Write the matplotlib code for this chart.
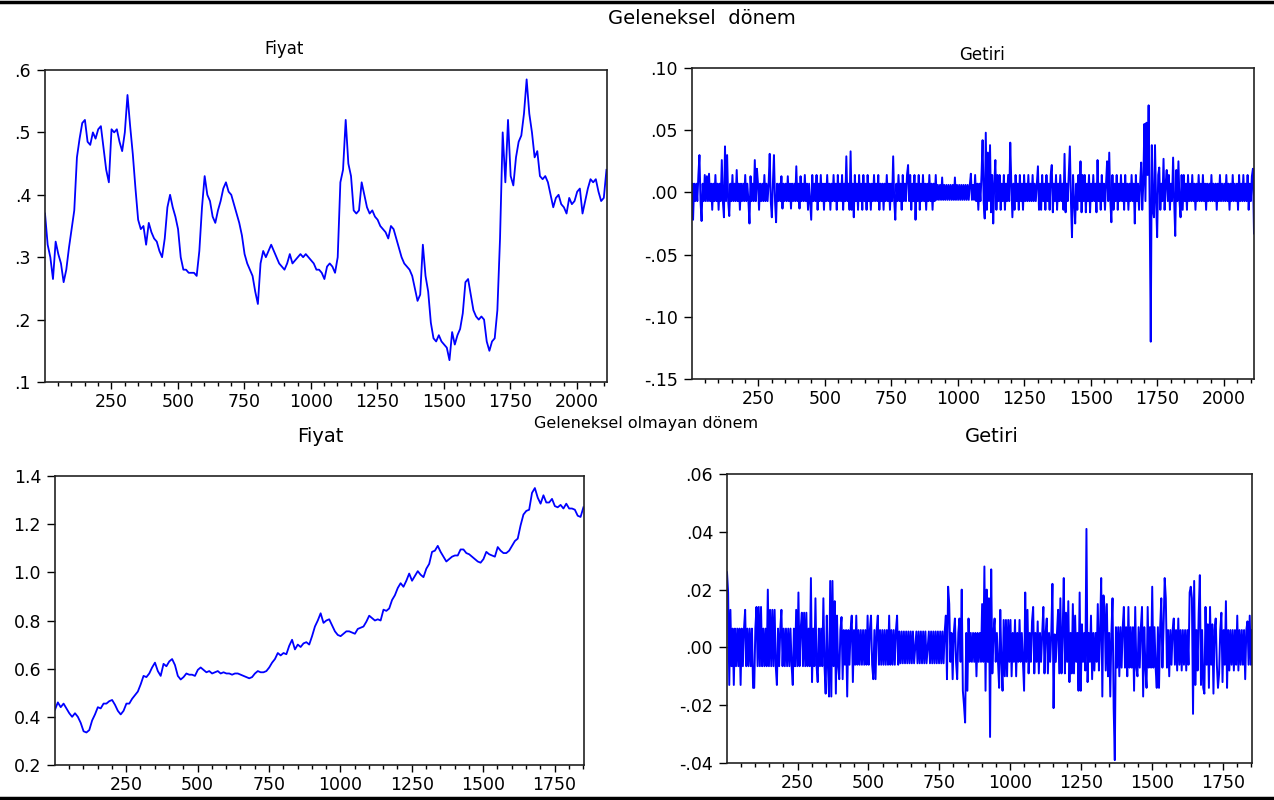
import numpy as np
import matplotlib
matplotlib.use("Agg")
import matplotlib.pyplot as plt
from matplotlib.lines import Line2D
from matplotlib.ticker import FixedLocator

plt.rcParams['font.family'] = ['DejaVu Sans']

# gözlem sayıları
n_geleneksel = 2113
n_olmayan = 1853

# Geleneksel dönem - fiyat (her 10 gözlemde bir okunan değerler)
fiyat_geleneksel = [
    0.37, 0.32, 0.30, 0.265, 0.325, 0.305, 0.29, 0.26, 0.28, 0.315,
    0.345, 0.375, 0.46, 0.49, 0.515, 0.52, 0.485, 0.48, 0.50, 0.49,
    0.505, 0.51, 0.475, 0.44, 0.42, 0.505, 0.50, 0.505, 0.485, 0.47,
    0.50, 0.56, 0.51, 0.465, 0.41, 0.36, 0.345, 0.35, 0.32, 0.355,
    0.34, 0.33, 0.325, 0.31, 0.30, 0.33, 0.38, 0.40, 0.38, 0.365,
    0.345, 0.30, 0.28, 0.28, 0.275, 0.275, 0.275, 0.27, 0.31, 0.38,
    0.43, 0.40, 0.39, 0.365, 0.355, 0.375, 0.39, 0.41, 0.42, 0.405,
    0.40, 0.385, 0.37, 0.355, 0.335, 0.305, 0.29, 0.28, 0.27, 0.245,
    0.225, 0.29, 0.31, 0.30, 0.31, 0.32, 0.31, 0.30, 0.29, 0.285,
    0.28, 0.29, 0.305, 0.29, 0.295, 0.30, 0.305, 0.30, 0.305, 0.30,
    0.295, 0.29, 0.28, 0.28, 0.275, 0.265, 0.285, 0.29, 0.285, 0.275,
    0.30, 0.42, 0.44, 0.52, 0.45, 0.43, 0.375, 0.37, 0.375, 0.42,
    0.40, 0.38, 0.37, 0.375, 0.365, 0.36, 0.35, 0.345, 0.34, 0.33,
    0.35, 0.345, 0.33, 0.315, 0.30, 0.29, 0.285, 0.28, 0.27, 0.25,
    0.23, 0.24, 0.32, 0.27, 0.245, 0.195, 0.17, 0.165, 0.175, 0.165,
    0.16, 0.155, 0.135, 0.18, 0.16, 0.175, 0.185, 0.21, 0.26, 0.265,
    0.24, 0.215, 0.205, 0.20, 0.205, 0.20, 0.165, 0.15, 0.165, 0.17,
    0.215, 0.33, 0.50, 0.42, 0.52, 0.43, 0.415, 0.46, 0.485, 0.495,
    0.53, 0.585, 0.53, 0.50, 0.46, 0.47, 0.43, 0.425, 0.43, 0.42,
    0.40, 0.38, 0.395, 0.40, 0.385, 0.38, 0.37, 0.395, 0.385, 0.39,
    0.405, 0.41, 0.37, 0.39, 0.41, 0.425, 0.42, 0.425, 0.405, 0.39,
    0.395, 0.44,
]

# Geleneksel dönem - getiri, yüzde olarak (her 4 gözlemde bir)
getiri_geleneksel_yuzde = [
    0.7, -2.2, 0.7, -0.7, 0.7, -0.7, 1.4, 3.0, -0.7, -2.3,
    0.7, -0.7, 1.4, -0.7, 1.3, -0.7, 1.5, -0.7, 0.7, -1.4,
    0.7, -0.7, 1.4, -0.7, 0.7, -1.4, 0.7, -0.7, 2.6, -0.7,
    -2.0, 3.7, -0.7, 3.0, -0.7, -1.9, 0.7, -0.7, 1.4, -0.7,
    0.7, -0.7, 1.8, -0.7, 0.7, -1.4, 0.7, -0.7, 0.7, -0.7,
    1.4, -0.7, 0.7, -0.7, -2.5, 1.3, -0.7, 0.7, -0.7, 2.6,
    -0.7, 1.9, 0.7, -1.4, 0.7, -0.7, 0.7, -0.7, 1.4, -0.7,
    0.7, -0.7, 0.7, 3.1, -0.7, -2.0, 0.7, 3.0, -0.7, -2.4,
    0.7, -0.7, 0.7, -0.7, 1.3, -1.3, 0.7, -0.7, 0.7, -0.7,
    1.3, -0.7, 0.7, -1.3, 0.7, -0.7, 0.7, -0.7, 2.1, -0.7,
    0.7, -1.3, 1.3, -0.7, 0.7, -0.7, 1.4, -0.7, 0.7, -1.4,
    0.7, -0.7, -2.2, 1.4, -0.7, 0.7, -0.7, 1.4, -1.4, 0.7,
    -0.7, 1.4, -0.7, 0.7, -1.4, 0.7, -0.7, 1.4, -0.7, 0.7,
    -1.4, 0.7, -0.7, 1.4, -0.7, 0.7, -1.4, 1.4, -0.7, 0.7,
    -0.7, 1.4, -1.4, 0.7, -0.7, 2.9, -0.7, 0.7, -1.4, 3.3,
    -1.4, 0.7, -2.0, 1.4, -0.7, 0.7, -1.4, 1.4, -0.7, 0.7,
    -1.4, 1.4, -0.7, 0.7, -1.4, 1.4, -0.7, 0.7, -1.4, 0.7,
    -0.7, 1.4, -0.7, 0.7, -0.7, 1.4, -1.4, 0.7, -0.7, 0.7,
    -1.4, 0.7, -0.7, 1.4, -0.7, 0.7, -1.4, 0.7, -0.7, 2.9,
    -0.7, -2.2, 0.7, -0.7, 1.4, -0.7, 0.7, -1.4, 1.4, -0.7,
    0.7, -0.7, 1.4, 2.2, -0.7, 1.4, -1.4, 0.7, -0.7, 1.4,
    -2.2, 0.7, -0.7, 1.4, -1.4, 0.7, -0.7, 1.4, -0.7, 0.7,
    -1.4, 0.7, -0.7, 1.4, -0.7, 0.7, -1.4, 0.7, -0.7, 1.4,
    -0.6, 0.6, -0.6, 0.6, -0.6, 1.2, -0.6, 0.6, -0.6, 0.6,
    -0.6, 0.6, -0.6, 0.6, -0.6, 0.6, -0.6, 1.2, -0.6, 0.6,
    -0.6, 0.6, -0.6, 0.6, -0.6, 0.6, -0.6, 0.6, -0.6, 0.6,
    -0.6, 0.6, 1.5, -0.6, 0.6, -0.6, 1.4, -0.7, 0.7, -1.4,
    0.7, -0.7, 1.4, 4.2, -0.7, -2.1, 4.8, -1.4, 3.2, -0.7,
    3.8, -1.6, 1.4, -2.5, 0.7, 2.6, -1.4, 1.4, -0.7, 1.4,
    -1.4, 0.7, -0.7, 1.4, -1.4, 0.7, -0.7, 1.4, -0.7, 4.0,
    0.7, -2.0, 0.7, -1.4, 1.4, -0.7, 0.7, -1.4, 1.4, -0.7,
    0.7, -1.4, 1.4, -0.7, 0.7, -0.7, 1.4, -0.7, 0.7, -0.7,
    1.4, -0.7, 0.7, -0.7, 0.7, 2.1, -1.4, 0.7, -1.4, 1.4,
    -0.7, 0.7, -1.4, 1.4, -0.7, 0.7, -1.4, 1.4, 2.2, -1.6,
    0.7, -0.7, 1.4, -1.4, 0.7, -0.7, 1.4, -0.7, 0.7, -1.4,
    3.1, -1.6, 0.7, -0.7, 1.4, 3.7, -0.7, -3.6, 1.4, -0.7,
    -2.5, 0.7, -1.4, 1.4, -0.7, 2.5, -1.6, 1.4, -0.7, 1.4,
    -1.6, 0.7, -0.7, 1.4, -1.6, 0.7, -0.7, 1.4, -0.7, 0.7,
    -1.6, 2.6, -0.7, 0.7, -1.4, 1.4, -0.7, 0.7, -1.4, 0.7,
    2.5, -0.7, 3.2, -0.7, -2.4, 1.4, -1.4, 0.7, -0.7, 1.4,
    -1.4, 0.7, -0.7, 1.4, -0.7, 0.7, -1.4, 1.4, -0.7, 0.7,
    -1.4, 0.7, -0.7, 1.4, -0.7, 0.7, -2.5, 1.4, -0.7, 0.7,
    -1.4, 0.7, 2.4, -1.4, 0.7, 5.5, -0.7, 5.6, 1.4, 7.0,
    -1.4, -12.0, 3.8, -1.4, -2.0, 3.8, -0.7, -3.6, 1.4, 2.0,
    -1.4, 0.7, -0.7, 2.7, -1.4, 0.7, 1.8, -0.7, 1.4, -1.4,
    0.7, -0.7, 2.8, -0.7, -3.5, 1.8, -0.7, 2.5, -0.7, -2.0,
    1.4, -1.4, 1.4, -0.7, 0.7, -1.4, 1.4, -0.7, 0.7, -0.7,
    1.4, -0.7, 0.7, -1.4, 0.7, -0.7, 1.4, -0.7, 0.7, -0.7,
    1.4, -0.7, 0.7, -1.4, 0.7, -0.7, 0.7, -0.7, 1.4, -0.7,
    0.7, -0.7, 0.7, -1.4, 0.7, -0.7, 1.4, -0.7, 0.7, -0.7,
    0.7, -0.7, 1.4, -0.7, 0.7, -1.4, 0.7, -0.7, 1.4, -0.7,
    0.7, -0.7, 0.7, -1.4, 1.4, -0.7, 0.7, -0.7, 1.4, -0.7,
    0.7, -0.7, 1.4, -1.4, 0.7, -0.7, 1.3, 1.9, -3.3,
]

# Geleneksel olmayan dönem - fiyat (her 10 gözlemde bir)
fiyat_olmayan = [
    0.43, 0.46, 0.44, 0.455, 0.435, 0.415, 0.40, 0.415, 0.40, 0.375,
    0.34, 0.335, 0.345, 0.385, 0.41, 0.44, 0.435, 0.455, 0.455, 0.465,
    0.47, 0.45, 0.425, 0.41, 0.425, 0.455, 0.455, 0.475, 0.49, 0.505,
    0.535, 0.57, 0.565, 0.58, 0.605, 0.625, 0.59, 0.57, 0.62, 0.61,
    0.63, 0.64, 0.615, 0.57, 0.555, 0.565, 0.58, 0.575, 0.575, 0.57,
    0.595, 0.605, 0.595, 0.585, 0.59, 0.58, 0.585, 0.59, 0.58, 0.585,
    0.58, 0.58, 0.575, 0.58, 0.58, 0.575, 0.57, 0.565, 0.56, 0.565,
    0.58, 0.59, 0.585, 0.585, 0.59, 0.605, 0.625, 0.64, 0.665, 0.655,
    0.665, 0.66, 0.695, 0.72, 0.68, 0.70, 0.69, 0.705, 0.71, 0.70,
    0.735, 0.775, 0.80, 0.83, 0.79, 0.80, 0.805, 0.78, 0.755, 0.74,
    0.735, 0.745, 0.755, 0.755, 0.75, 0.745, 0.765, 0.77, 0.775, 0.795,
    0.82, 0.81, 0.80, 0.805, 0.80, 0.845, 0.84, 0.85, 0.885, 0.905,
    0.935, 0.955, 0.94, 0.965, 0.995, 0.965, 0.985, 1.005, 0.99, 0.98,
    1.015, 1.035, 1.085, 1.09, 1.11, 1.085, 1.065, 1.045, 1.055, 1.065,
    1.07, 1.07, 1.095, 1.095, 1.08, 1.075, 1.065, 1.055, 1.045, 1.04,
    1.055, 1.085, 1.075, 1.07, 1.065, 1.105, 1.09, 1.08, 1.08, 1.09,
    1.11, 1.13, 1.14, 1.195, 1.24, 1.255, 1.26, 1.33, 1.35, 1.31,
    1.285, 1.32, 1.29, 1.29, 1.305, 1.275, 1.27, 1.28, 1.265, 1.285,
    1.265, 1.265, 1.26, 1.235, 1.23, 1.27,
]

# Geleneksel olmayan dönem - getiri, yüzde olarak (her 4 gözlemde bir)
getiri_olmayan_yuzde = [
    2.6, 1.9, -1.3, 1.3, -0.65, 0.65, -1.3, 0.65, -0.65, 0.65,
    -0.65, 0.65, -1.3, 0.65, -0.65, 0.65, 1.3, -0.65, 0.65, -0.65,
    0.65, -0.65, 0.65, -1.4, -1.4, 0.65, 1.4, -0.65, 1.4, -0.65,
    1.4, -0.65, 0.65, -0.65, 0.65, -0.65, 2.0, -0.65, 1.3, -0.65,
    1.3, -0.65, 1.3, -0.65, -1.3, 0.65, -0.65, 0.65, 1.3, -0.65,
    0.65, -0.65, 0.65, -0.65, 0.65, -0.65, 0.65, -0.65, -1.3, 0.65,
    -0.65, 1.3, -0.65, 1.9, -0.65, 0.65, 1.2, -0.65, 1.2, -0.65,
    1.2, -0.65, 0.65, -0.65, 2.4, -1.2, 0.65, -0.65, 1.7, -0.65,
    -1.2, 0.65, -0.65, 0.65, -0.65, 1.7, -0.65, -1.6, 1.1, -0.65,
    -1.7, 2.3, -1.7, 2.3, -0.65, 1.6, -1.6, 1.1, -0.65, -1.1,
    0.6, 1.05, -1.1, 0.6, -0.6, 0.6, -1.7, 0.6, -0.6, 0.6,
    1.1, -1.2, 0.6, -0.6, 1.1, -0.6, 0.6, -0.6, 0.6, -0.6,
    0.6, -0.6, 0.6, -0.6, 1.1, -0.6, 0.6, 1.1, -0.6, -1.1,
    0.6, -1.1, 0.6, 1.1, -0.6, 0.6, -0.6, 0.6, -0.6, 0.6,
    -0.6, 0.6, -0.6, 1.1, -0.6, 0.6, -0.6, 0.6, -0.6, 0.6,
    1.1, -0.6, 0.55, -0.55, 0.55, -0.55, 0.55, -0.55, 0.55, -0.55,
    0.55, -0.55, 0.55, -0.55, 0.55, -0.55, 0.0, 0.55, -0.55, 0.55,
    -0.55, 0.55, -0.55, 0.55, -0.55, 0.55, -0.55, 0.0, 0.55, -0.55,
    0.55, -0.55, 0.55, -0.55, 0.55, -0.55, 0.55, -0.55, 0.55, -0.55,
    0.55, -0.55, 0.55, 1.1, -1.1, 2.1, 1.5, -0.5, 0.5, -1.1,
    0.5, 1.0, -0.5, -1.1, 0.5, 1.0, -0.5, 2.0, -1.5, -2.0,
    -2.6, 0.5, -1.5, 1.0, -0.5, 0.5, -0.5, 0.5, -0.5, 0.5,
    -1.0, 0.5, -0.5, 0.5, -0.5, 1.5, -0.5, 2.8, -1.5, 2.0,
    -0.5, 1.7, -3.1, 2.7, -0.9, 0.5, 1.0, -0.5, 0.5, -0.5,
    -1.4, 1.3, -0.5, -1.5, 0.95, -1.0, 0.95, -1.0, 0.95, -0.5,
    0.95, -1.0, 0.5, -0.5, 0.95, -1.0, 0.5, -0.5, 0.95, -0.5,
    0.5, -0.5, -1.5, 1.9, -0.5, 1.3, -0.9, 0.5, -0.5, 0.9,
    1.4, -0.9, 0.5, -0.5, 0.9, -0.9, 0.5, -0.5, 0.5, 1.4,
    -0.9, 0.5, 1.0, -0.9, 0.5, -0.5, 0.5, 2.2, -2.1, 0.45,
    -0.5, 0.5, 1.3, -0.9, 1.7, -0.9, 0.5, 2.4, -0.9, 1.2,
    -0.5, 1.6, -1.2, 0.5, -0.9, 1.5, -0.9, 1.1, -0.5, 0.5,
    -1.5, 1.9, -1.5, 0.8, -0.5, 0.5, -0.8, 4.1, -1.2, 0.5,
    -0.5, 1.1, -1.1, 0.5, -0.8, 0.5, -0.5, 1.5, -0.8, 0.5,
    2.4, -1.7, 1.8, 1.4, -0.8, 1.5, -1.0, 0.5, -1.7, 0.5,
    1.7, -2.1, -3.9, 0.7, -0.7, 0.7, -1.0, 0.7, -0.7, 0.7,
    1.4, -0.7, 0.7, -1.0, 1.4, -0.7, 0.7, -0.7, 0.7, -1.5,
    1.4, -0.7, -1.0, 0.7, -0.7, 0.7, 1.4, -1.7, 0.7, -0.7,
    -1.4, 1.4, -0.7, 0.7, -0.7, 2.1, -0.7, 0.7, -0.7, -1.4,
    0.7, -1.4, 0.7, 1.7, -0.7, 0.7, 2.4, 1.7, -0.7, 0.6,
    -1.0, 0.6, -0.6, 0.6, 1.0, -0.6, 0.6, -0.8, 1.0, -0.6,
    0.6, -0.8, 0.6, -0.6, 0.6, -0.8, 0.6, -0.6, 1.9, 2.1,
    1.7, -2.3, 2.3, -1.3, 0.6, -0.8, 1.2, 2.5, -1.3, 0.6,
    -1.4, -1.6, 1.4, -0.6, 0.8, -1.4, 1.4, -0.6, 0.8, -1.6,
    0.6, 1.0, -0.6, -1.4, -0.9, 0.6, 1.2, -1.2, 0.6, -0.6,
    1.6, -1.4, 0.6, -0.8, 0.6, -0.6, 0.6, -0.8, 0.6, -0.6,
    1.1, -0.8, 0.6, -0.6, 0.6, -0.6, 0.6, -1.1, 0.6, 0.9,
    -0.6, 1.1, -0.6, 0.6,
]

ust_fiyat_ticks = [0.1, 0.2, 0.3, 0.4, 0.5, 0.6]
ust_fiyat_labels = ['.1', '.2', '.3', '.4', '.5', '.6']
ust_getiri_ticks = [-0.15, -0.10, -0.05, 0.0, 0.05, 0.10]
ust_getiri_labels = ['-.15', '-.10', '-.05', '.00', '.05', '.10']
alt_fiyat_ticks = [0.2, 0.4, 0.6, 0.8, 1.0, 1.2, 1.4]
alt_fiyat_labels = ['0.2', '0.4', '0.6', '0.8', '1.0', '1.2', '1.4']
alt_getiri_ticks = [-0.04, -0.02, 0.0, 0.02, 0.04, 0.06]
alt_getiri_labels = ['-.04', '-.02', '.00', '.02', '.04', '.06']

W, H = 1274, 800
fig = plt.figure(figsize=(W / 100, H / 100), dpi=100)


def px_axes(left, top, right, bottom):
    return fig.add_axes([left / W, 1 - bottom / H, (right - left) / W, (bottom - top) / H])


def panel(ax, y, step, n, ylim, yticks, ylabels, lw):
    x = 1 + step * np.arange(len(y))
    ax.plot(x, y, color='#0000ff', lw=lw)
    ax.set_xlim(1, n)
    ax.set_ylim(*ylim)
    ax.set_yticks(yticks)
    ax.set_yticklabels(ylabels)
    ax.xaxis.set_major_locator(FixedLocator(list(range(250, n, 250))))
    ax.xaxis.set_minor_locator(FixedLocator([v for v in range(50, n, 50) if v % 250]))
    ax.tick_params(axis='x', which='major', direction='out', length=5, width=1,
                   labelsize=12.5, pad=3)
    ax.tick_params(axis='x', which='minor', direction='out', length=3, width=1)
    ax.tick_params(axis='y', direction='out', length=6, width=1, labelsize=12.5, pad=4)
    for s in ax.spines.values():
        s.set_linewidth(1.2)
        s.set_color('#222222')


ax1 = px_axes(45, 70, 607, 382)
panel(ax1, fiyat_geleneksel, 10, n_geleneksel, (0.1, 0.6), ust_fiyat_ticks,
      ust_fiyat_labels, 1.3)
ax2 = px_axes(692, 68, 1254, 379)
panel(ax2, np.array(getiri_geleneksel_yuzde) / 100, 4, n_geleneksel, (-0.15, 0.10),
      ust_getiri_ticks, ust_getiri_labels, 1.4)
ax3 = px_axes(55, 476, 584, 765)
panel(ax3, fiyat_olmayan, 10, n_olmayan, (0.2, 1.4), alt_fiyat_ticks,
      alt_fiyat_labels, 1.3)
ax4 = px_axes(727, 474, 1252, 763)
panel(ax4, np.array(getiri_olmayan_yuzde) / 100, 4, n_olmayan, (-0.04, 0.06),
      alt_getiri_ticks, alt_getiri_labels, 1.4)


def px_text(x, y, s, size):
    fig.text(x / W, 1 - y / H, s, ha='center', va='center', fontsize=size)


px_text(702, 18, 'Geleneksel  dönem', 14)
px_text(284, 49, 'Fiyat', 12)
px_text(982, 55, 'Getiri', 12)
px_text(646, 423, 'Geleneksel olmayan dönem', 11.5)
px_text(320, 437, 'Fiyat', 14)
px_text(992, 437, 'Getiri', 14)

fig.add_artist(Line2D([0, 1], [1 - 2 / H, 1 - 2 / H], color='black', lw=2.5))
fig.add_artist(Line2D([0, 1], [1 - 798 / H, 1 - 798 / H], color='black', lw=2.5))

fig.savefig('out.png', dpi=100)
